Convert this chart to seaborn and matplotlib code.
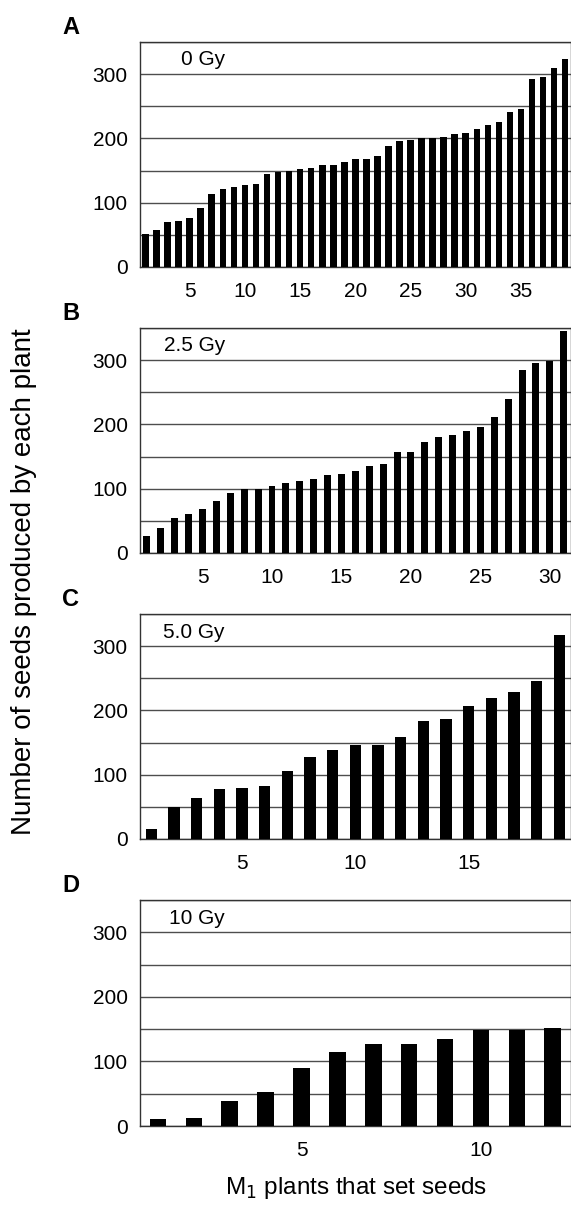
import numpy as np
import pandas as pd
import seaborn as sns
import matplotlib.pyplot as plt
from matplotlib.ticker import MultipleLocator

# seeds per plant, sorted ascending
seeds_0gy = [52, 58, 70, 71, 76, 91, 113, 122, 124, 128, 129, 144, 148, 150, 152,
             154, 158, 159, 163, 168, 168, 173, 188, 196, 197, 200, 200, 202, 207,
             208, 215, 221, 226, 241, 246, 293, 295, 309, 324]
seeds_2_5gy = [26, 39, 54, 61, 68, 81, 94, 100, 100, 104, 109, 112, 115, 121, 123,
               128, 136, 139, 157, 157, 173, 181, 183, 189, 196, 212, 240, 285, 295,
               299, 345]
seeds_5gy = [16, 50, 64, 78, 80, 83, 106, 128, 139, 147, 147, 158, 183, 186, 207,
             219, 228, 246, 318]
seeds_10gy = [11, 13, 39, 52, 90, 115, 127, 127, 134, 148, 149, 151]

doses = ["0 Gy", "2.5 Gy", "5.0 Gy", "10 Gy"]
letters = ["A", "B", "C", "D"]
all_seeds = [seeds_0gy, seeds_2_5gy, seeds_5gy, seeds_10gy]
xticks = [[5, 10, 15, 20, 25, 30, 35], [5, 10, 15, 20, 25, 30], [5, 10, 15], [5, 10]]
bar_w = [0.6, 0.5, 0.5, 0.46]

sns.set_style("white")
plt.rcParams['font.family'] = ['Liberation Sans', 'DejaVu Sans']
plt.rcParams['text.color'] = 'black'

W, H = 571, 1208
fig = plt.figure(figsize=(W / 100, H / 100), dpi=100)

# axes boxes in pixels: (top, bottom)
boxes = [(42, 267), (328, 553), (614, 839), (900, 1126)]
left, right = 140, 570.7

for i, (top, bot) in enumerate(boxes):
    ax = fig.add_axes([left / W, 1 - bot / H, (right - left) / W, (bot - top) / H])
    vals = all_seeds[i]
    df = pd.DataFrame({"plant": np.arange(1, len(vals) + 1), "seeds": vals})
    sns.barplot(data=df, x="plant", y="seeds", color="black", saturation=1,
                width=bar_w[i], edgecolor="none", ax=ax, zorder=3)
    ax.set_xlim(-0.5, len(vals) - 0.5)
    ax.set_ylim(0, 350)
    ax.yaxis.set_major_locator(MultipleLocator(100))
    ax.yaxis.set_minor_locator(MultipleLocator(50))
    ax.grid(axis='y', which='both', color='#4d4d4d', lw=1, zorder=0)
    ax.set_axisbelow(True)
    ax.set_xticks([t - 1 for t in xticks[i]])
    ax.set_xticklabels([str(t) for t in xticks[i]])
    ax.tick_params(axis='both', length=0, labelsize=15, colors='black')
    ax.tick_params(axis='y', pad=9)
    ax.tick_params(axis='x', pad=11)
    ax.set_xlabel("")
    ax.set_ylabel("")
    for s in ax.spines.values():
        s.set_color('#333333')
        s.set_linewidth(1)
    ax.text(0.197, 0.92, doses[i], transform=ax.transAxes, ha='right', va='center',
            fontsize=15, color='black')
    fig.text(62 / W, 1 - (top - 14) / H, letters[i], fontsize=17, fontweight='bold',
             ha='left', va='center', color='black')

fig.text(24 / W, 1 - 582 / H, "Number of seeds produced by each plant", rotation=90,
         ha='center', va='center', fontsize=20, color='black')
fig.text(356 / W, 1 - 1188 / H, "M$_1$ plants that set seeds", ha='center',
         va='center', fontsize=17.5, color='black')

fig.savefig("out.png", dpi=100)
